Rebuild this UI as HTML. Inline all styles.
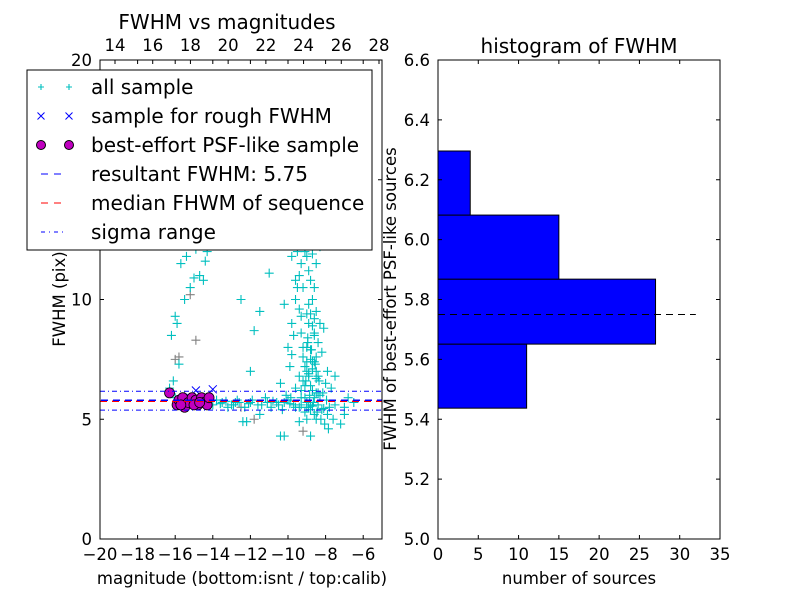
<!DOCTYPE html>
<html><head><meta charset="utf-8"><style>
body{margin:0;background:#fff}
svg text{font-family:"DejaVu Sans","Liberation Sans",sans-serif;fill:#000}
</style></head><body>
<svg id="c" width="800" height="600" xmlns="http://www.w3.org/2000/svg">
<rect width="800" height="600" fill="#fff"/>
</svg>
<script>
const allMag=[-16.2,-16.0,-15.9,-15.8,-15.7,-15.4,-15.2,-15.0,-14.9,-14.7,-14.5,-14.4,-14.3,-15.5,-16.3,-16.1,-16.0,-12.5,-11.8,-12.0,-11.5,-11.0,-10.4,-10.0,-9.5,-9.8,-14,-13.5,-13,-12.7,-12.3,-12,-11.6,-11.2,-10.9,-10.6,-10.3,-10,-9.7,-9.4,-9.1,-8.8,-8.5,-8.2,-7.9,-7.5,-7.0,-6.8,-12.4,-12.2,-11.5,-13.8,-13.2,-12.8,-9.5,-9.3,-9.0,-8.8,-9.1,-9.4,-9.6,-9.2,-8.9,-8.7,-8.5,-8.3,-8.6,-8.9,-9.3,-9.7,-10.2,-9.8,-9.0,-8.8,-8.5,-8.2,-8.0,-8.4,-8.7,-9.1,-9.4,-9.6,-9.9,-10.1,-8.9,-8.6,-8.4,-8.1,-7.9,-7.7,-7.5,-8.8,-9.0,-9.2,-8.7,-9.5,-8.3,-8.5,-8.6,-9.3,-8.95,-8.75,-8.55,-8.35,-8.15,-7.95,-9.85,-9.05,-8.85,-8.65,-8.45,-8.25,-8.05,-7.85,-7.6,-7.2,-7.0,-6.5,-10.4,-10.2,-9.4,-9.0,-8.8,-9.6,-9.4,-9.0,-8.7,-9.8,-8.9,-9.2,-8.6,-8.4,-9.1,-8.8,-9.0,-8.7,-8.5,-9.3,-8.9,-8.6,-13.6,-13.3,-12.9,-12.6,-12.1,-11.9,-11.4,-11.1,-10.8,-10.5,-10.2,-9.9,-9.6,-9.3,-9.0,-8.7,-8.4,-8.1,-7.8,-9.2,-9.0,-8.8,-8.6,-9.1,-8.9,-8.7,-8.5,-9.3,-8.8,-8.6,-9.0,-8.9,-8.7,-8.5,-8.3,-9.2,-8.8,-8.95,-8.65];
const allFwhm=[8.5,9.3,9.0,7.3,11.5,11.8,10.5,10.9,12.1,11.0,10.8,11.6,12.0,10.0,6.3,6.6,5.9,10.0,8.7,7.0,9.5,11.1,6.5,8.0,10.5,11.8,5.6,5.7,5.6,5.8,5.5,5.7,5.6,5.9,5.5,5.7,5.4,5.8,5.6,5.5,5.3,5.6,5.0,5.4,5.2,5.6,5.5,5.9,4.9,4.9,5.2,5.8,5.5,5.7,12.8,11.5,13.0,12.5,12.0,11.0,10.0,10.5,11.2,10.0,9.5,9.0,8.5,9.8,9.3,8.5,9.8,7.7,8.0,7.5,7.0,7.8,6.5,6.8,6.2,7.2,6.8,6.3,7.2,6.0,9.0,9.2,8.2,8.8,7.0,6.3,6.8,10.8,11.8,12.3,11.9,12.0,12.2,11.5,10.5,8.6,8.2,7.9,7.3,6.6,6.1,5.8,5.9,6.6,6.0,5.7,5.3,5.0,4.8,4.6,5.0,4.8,5.2,5.7,4.3,4.3,4.9,5.0,4.3,10.8,9.6,9.4,8.9,9.0,6.9,7.6,7.4,6.1,5.9,6.4,7.0,7.1,6.7,6.2,5.5,5.2,5.65,5.75,5.6,5.7,5.65,5.8,5.6,5.7,5.75,5.6,5.7,5.65,5.5,5.6,5.7,5.55,5.6,5.45,5.5,8.0,7.4,7.9,8.6,6.4,6.9,7.4,6.1,5.9,5.4,5.9,5.5,6.8,7.1,7.6,6.0,6.6,9.4,8.4];
const grayMag=[-16.0,-15.2,-14.9,-15.5,-11.8,-9.2,-12.5,-15.8];
const grayFwhm=[7.5,10.2,8.3,6.0,5.0,4.5,5.5,7.6];
const roughMag=[-14.9,-14.0,-15.2];
const roughFwhm=[6.2,6.25,5.9];
const psfMag=[-16.3,-15.9,-15.8,-15.6,-15.5,-15.3,-15.1,-14.9,-14.8,-14.6,-14.5,-14.3,-14.2,-15.7,-15.0,-14.7];
const psfFwhm=[6.1,5.6,5.8,5.9,5.5,5.7,5.9,5.8,5.6,5.9,5.7,5.6,5.9,5.6,5.6,5.7];
const resultFwhm=5.75, sigLo=5.38, sigHi=6.17;
const xTicks=[-20,-18,-16,-14,-12,-10,-8,-6];
const xTickLabels=["\u221220","\u221218","\u221216","\u221214","\u221212","\u221210","\u22128","\u22126"];
const yTicks=[0,5,10,15,20];
const topTicks=[14,16,18,20,22,24,26,28];
const binLo=[5.437,5.651,5.868,6.082];
const binHi=[5.651,5.868,6.082,6.296];
const binCounts=[11,27,15,4];
const hxTicks=[0,5,10,15,20,25,30,35];
const hyTicks=[5.0,5.2,5.4,5.6,5.8,6.0,6.2,6.4,6.6];

const S=document.getElementById('c'),NS='http://www.w3.org/2000/svg';
function el(t,a,p){const e=document.createElementNS(NS,t);for(const k in a)e.setAttribute(k,a[k]);(p||S).appendChild(e);return e;}
const TF=16.5, BF=20;
const L={x0:100,x1:382,y0:539,y1:60};
const sx=v=>L.x0+(v+20)/15*(L.x1-L.x0);
const sy=v=>L.y0-v/20*(L.y0-L.y1);
const st=v=>115+(v-14)/14*(379-115);
const clip=el('clipPath',{id:'lc'});el('rect',{x:L.x0,y:L.y1,width:L.x1-L.x0,height:L.y0-L.y1},clip);
const g=el('g',{'clip-path':'url(#lc)'});


function plus(x,y,c,p,s){s=s||4.5;return el('path',{d:`M${x-s},${y}H${x+s}M${x},${y-s}V${y+s}`,stroke:c,'stroke-width':1.1,fill:'none'},p);}
grayMag.forEach((m,i)=>{const e=plus(sx(m),sy(grayFwhm[i]),'#808080',g);});
allMag.forEach((m,i)=>{const e=plus(sx(m),sy(allFwhm[i]),'#00bfbf',g);});
roughMag.forEach((m,i)=>{const x=sx(m),y=sy(roughFwhm[i]),s=4;const e=el('path',{d:`M${x-s},${y-s}L${x+s},${y+s}M${x-s},${y+s}L${x+s},${y-s}`,stroke:'#0000ff',fill:'none'},g);});
psfMag.forEach((m,i)=>{const e=el('circle',{cx:sx(m),cy:sy(psfFwhm[i]),r:5,fill:'#bf00bf',stroke:'#000','stroke-width':0.8},g);});
let ln=el('line',{x1:L.x0,x2:L.x1,y1:sy(resultFwhm),y2:sy(resultFwhm),stroke:'#ff0000','stroke-width':1.5,'stroke-dasharray':'7,5'},g);

ln=el('line',{x1:L.x0+1,x2:L.x1,y1:sy(resultFwhm)-1,y2:sy(resultFwhm)-1,stroke:'#0000ff','stroke-width':1.5,'stroke-dasharray':'7,5'},g);

[sigLo,sigHi].forEach(v=>{const e=el('line',{x1:L.x0,x2:L.x1,y1:sy(v),y2:sy(v),stroke:'#0000ff','stroke-width':1,'stroke-dasharray':'5,3,1,3'},g);});
el('rect',{x:L.x0,y:L.y1,width:L.x1-L.x0,height:L.y0-L.y1,fill:'none',stroke:'#000'});
xTicks.forEach((v,i)=>{const x=sx(v);el('path',{d:`M${x},${L.y0}v-4M${x},${L.y1}v4`,stroke:'#000'});const t=el('text',{x:x,y:L.y0+21,'text-anchor':'middle','font-size':TF});t.textContent=xTickLabels[i];});
yTicks.forEach(v=>{const y=sy(v);el('path',{d:`M${L.x0},${y}h4M${L.x1},${y}h-4`,stroke:'#000'});const t=el('text',{x:L.x0-8,y:y+6,'text-anchor':'end','font-size':TF});t.textContent=v;});
topTicks.forEach(v=>{const x=st(v);el('path',{d:`M${x},${L.y1}v4`,stroke:'#000'});const t=el('text',{x:x,y:L.y1-9,'text-anchor':'middle','font-size':TF});t.textContent=v;});
let t=el('text',{x:227,y:29,'text-anchor':'middle','font-size':BF});t.textContent='FWHM vs magnitudes';
t=el('text',{x:242,y:584,'text-anchor':'middle','font-size':TF});t.textContent='magnitude (bottom:isnt / top:calib)';
t=el('text',{x:0,y:0,'text-anchor':'middle','font-size':TF,transform:'translate(65,299) rotate(-90)'});t.textContent='FWHM (pix)';
const lg=el('g',{});
el('rect',{x:27,y:70,width:345,height:180,fill:'#fff',stroke:'#000'},lg);
const labels=['all sample','sample for rough FWHM','best-effort PSF-like sample','resultant FWHM: 5.75','median FHWM of sequence','sigma range'];
labels.forEach((s,i)=>{const y=87+i*29;const a=41,b=69;
 if(i==0){plus(a,y,'#00bfbf',lg,3);plus(b,y,'#00bfbf',lg,3);}
 if(i==1){[a,b].forEach(x=>el('path',{d:`M${x-3.5},${y-3.5}l7,7M${x-3.5},${y+3.5}l7,-7`,stroke:'#0000ff'},lg));}
 if(i==2){[a,b].forEach(x=>el('circle',{cx:x,cy:y,r:4.5,fill:'#bf00bf',stroke:'#000'},lg));}
 if(i==3)el('line',{x1:41,x2:67,y1:y,y2:y,stroke:'#0000ff','stroke-dasharray':'7,6'},lg);
 if(i==4)el('line',{x1:41,x2:67,y1:y,y2:y,stroke:'#ff0000','stroke-dasharray':'7,6'},lg);
 if(i==5)el('line',{x1:41,x2:67,y1:y,y2:y,stroke:'#0000ff','stroke-dasharray':'4,4,1,4'},lg);
 const e=el('text',{x:91,y:y+7,'font-size':BF},lg);e.textContent=s;});
const R={x0:438,x1:720,y0:539,y1:60};
const hx=v=>R.x0+v/35*(R.x1-R.x0);
const hy=v=>R.y0-(v-5)/1.6*(R.y0-R.y1);
binCounts.forEach((c,i)=>{const e=el('rect',{x:hx(0),y:hy(binHi[i]),width:hx(c)-hx(0),height:hy(binLo[i])-hy(binHi[i]),fill:'#0000ff',stroke:'#000'});});
ln=el('line',{x1:hx(0),x2:hx(32),y1:hy(resultFwhm),y2:hy(resultFwhm),stroke:'#000','stroke-dasharray':'7,5'});
el('rect',{x:R.x0,y:R.y1,width:R.x1-R.x0,height:R.y0-R.y1,fill:'none',stroke:'#000'});
hxTicks.forEach(v=>{const x=hx(v);el('path',{d:`M${x},${R.y0}v-4M${x},${R.y1}v4`,stroke:'#000'});const e=el('text',{x:x,y:R.y0+21,'text-anchor':'middle','font-size':TF});e.textContent=v;});
hyTicks.forEach(v=>{const y=hy(v);el('path',{d:`M${R.x0},${y}h4M${R.x1},${y}h-4`,stroke:'#000'});const e=el('text',{x:R.x0-8,y:y+6,'text-anchor':'end','font-size':TF});e.textContent=v.toFixed(1);});
t=el('text',{x:579,y:53,'text-anchor':'middle','font-size':BF});t.textContent='histogram of FWHM';
t=el('text',{x:579,y:584,'text-anchor':'middle','font-size':TF});t.textContent='number of sources';
t=el('text',{x:0,y:0,'text-anchor':'middle','font-size':TF,transform:'translate(396,299) rotate(-90)'});t.textContent='FWHM of best-effort PSF-like sources';
</script>
</body></html>
